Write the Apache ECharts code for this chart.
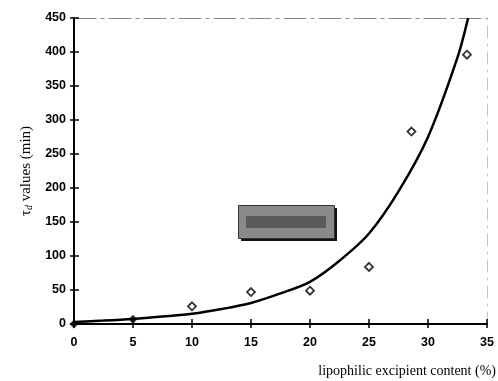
<!DOCTYPE html>
<html>
<head>
<meta charset="utf-8">
<script src="https://cdn.jsdelivr.net/npm/echarts@6/dist/echarts.min.js"></script>
<style>
  html, body { margin: 0; padding: 0; background: #fff; }
  #main { width: 498px; height: 381px; }
</style>
</head>
<body>
<div id="main"></div>
<script>
// measured points (filled markers for the first two)
const filledPoints = [[0, 0], [5, 7]];
const openPoints = [[10, 26], [15, 47], [20, 49], [25, 84], [28.6, 283], [33.3, 396]];
// trend curve
const curveX = [0, 2.5, 5, 7.5, 10, 12.5, 15, 17.5, 20, 22.5, 25, 27.5, 30, 32.5, 33.4];
const curveY = [3, 5, 7.5, 11, 15, 22, 31, 45, 62, 93, 133, 195, 275, 392, 450];
const xTicks = [0, 5, 10, 15, 20, 25, 30, 35];
const yTicks = [0, 50, 100, 150, 200, 250, 300, 350, 400, 450];

const chart = echarts.init(document.getElementById('main'));

const labelFont = { color: '#000', fontFamily: 'Liberation Sans, Arial', fontWeight: 'bold', fontSize: 12.5 };
const tickLine = { color: '#000', width: 1.5 };

const option = {
  animation: false,
  grid: { left: 74, right: 11, top: 18, bottom: 57 },
  xAxis: [
    {
      type: 'value', min: 0, max: 35, interval: 5, position: 'bottom',
      axisLine: { show: true, onZero: false, lineStyle: { color: '#000', width: 2 } },
      axisTick: { show: true, length: 4, lineStyle: tickLine },
      axisLabel: { ...labelFont, margin: 12 },
      splitLine: { show: false }
    },
    {
      type: 'value', min: 0, max: 35, interval: 5, position: 'bottom',
      axisLine: { show: false, onZero: false },
      axisTick: { show: true, inside: true, length: 5, lineStyle: tickLine },
      axisLabel: { show: false }, splitLine: { show: false }
    },
    {
      type: 'value', min: 0, max: 35, position: 'top',
      axisLine: { show: true, onZero: false, lineStyle: { color: '#8a8a8a', width: 1, type: [22, 5, 3, 5] } },
      axisTick: { show: false }, axisLabel: { show: false }, splitLine: { show: false }
    }
  ],
  yAxis: [
    {
      type: 'value', min: 0, max: 450, interval: 50, position: 'left',
      axisLine: { show: true, onZero: false, lineStyle: { color: '#000', width: 2 } },
      axisTick: { show: true, length: 4, lineStyle: tickLine },
      axisLabel: { ...labelFont, margin: 8 },
      splitLine: { show: false },
      name: '{t|τ}{d|d}{t| values (min)}',
      nameLocation: 'middle', nameGap: 38, nameRotate: 90,
      nameTextStyle: {
        rich: {
          t: { fontFamily: 'Liberation Serif, Times New Roman', fontSize: 15, color: '#000' },
          d: { fontFamily: 'Liberation Serif, Times New Roman', fontSize: 10, fontStyle: 'italic', color: '#000', verticalAlign: 'bottom', padding: [6, 0, 0, 0] }
        }
      }
    },
    {
      type: 'value', min: 0, max: 450, interval: 50, position: 'left',
      axisLine: { show: false, onZero: false },
      axisTick: { show: true, inside: true, length: 5, lineStyle: tickLine },
      axisLabel: { show: false }, splitLine: { show: false }
    },
    {
      type: 'value', min: 0, max: 450, position: 'right',
      axisLine: { show: true, onZero: false, lineStyle: { color: '#c4c4c4', width: 1, type: [12, 6, 2, 6] } },
      axisTick: { show: false }, axisLabel: { show: false }, splitLine: { show: false }
    }
  ],
  graphic: [
    {
      type: 'text', right: 2, top: 364,
      style: { text: 'lipophilic excipient content (%)', font: '14px "Liberation Serif", "Times New Roman"', fill: '#000' }
    },
    {
      type: 'rect', left: 241, top: 208, z: 10,
      shape: { width: 96, height: 33 },
      style: { fill: '#111' }
    },
    {
      type: 'rect', left: 238, top: 205, z: 11,
      shape: { width: 96, height: 33 },
      style: { fill: '#8a8a8a', stroke: '#333', lineWidth: 1 }
    },
    {
      type: 'rect', left: 246, top: 216, z: 12,
      shape: { width: 80, height: 12 },
      style: { fill: '#5a5a5a' }
    }
  ],
  series: [
    {
      type: 'line', data: curveX.map((x, i) => [x, curveY[i]]),
      smooth: 0.3, showSymbol: false, clip: true,
      lineStyle: { color: '#000', width: 2.5 }, z: 3
    },
    {
      type: 'scatter', data: openPoints, symbol: 'diamond', symbolSize: 8,
      itemStyle: { color: '#fff', borderColor: '#000', borderWidth: 1.8 }, z: 4
    },
    {
      type: 'scatter', data: filledPoints, symbol: 'diamond', symbolSize: 9,
      itemStyle: { color: '#000' }, z: 4
    }
  ]
};

chart.setOption(option);
</script>
</body>
</html>
